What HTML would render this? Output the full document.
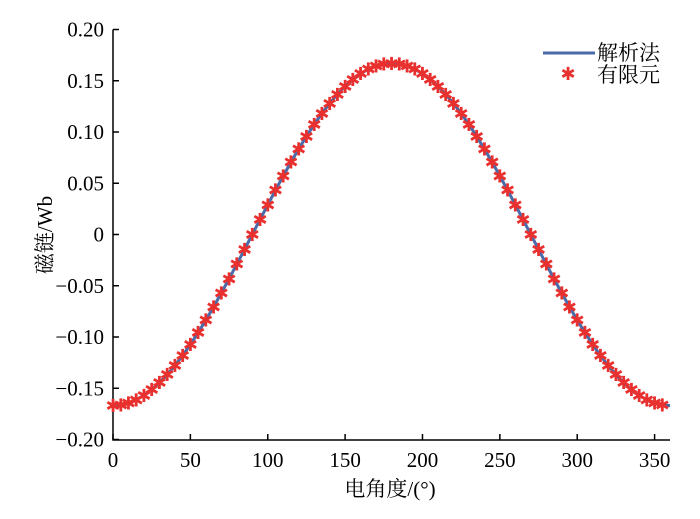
<!DOCTYPE html>
<html><head><meta charset="utf-8"><style>
body{margin:0;background:#fff}
svg text{font-family:"Liberation Serif","Noto Serif CJK SC",serif;font-size:21px;fill:#000}
</style></head><body>
<svg width="700" height="514">
<g id="axes"></g><g id="plot"></g>
<g>
<line x1="543" y1="53" x2="595" y2="53" stroke="#4a6aa8" stroke-width="3"/>
<text x="597" y="60">解析法</text>
<text x="568" y="80" text-anchor="middle" style="fill:#e8312f;font-size:18px;font-family:'DejaVu Sans',sans-serif">✱</text>
<text x="597" y="82">有限元</text>
</g>
<text x="390" y="496" text-anchor="middle">电角度/(°)</text>
<text transform="translate(52,235) rotate(-90)" text-anchor="middle">磁链/Wb</text>
</svg>
<script>
const angles=[0,5,10,15,20,25,30,35,40,45,50,55,60,65,70,75,80,85,90,95,100,105,110,115,120,125,130,135,140,145,150,155,160,165,170,175,180,185,190,195,200,205,210,215,220,225,230,235,240,245,250,255,260,265,270,275,280,285,290,295,300,305,310,315,320,325,330,335,340,345,350,355,360];
const half=[-0.167,-0.1664,-0.1645,-0.1613,-0.1569,-0.1514,-0.1446,-0.1368,-0.1279,-0.1181,-0.1073,-0.0958,-0.0835,-0.0706,-0.0571,-0.0432,-0.029,-0.0146,0,0.0146,0.029,0.0432,0.0571,0.0706,0.0835,0.0958,0.1073,0.1181,0.1279,0.1368,0.1446,0.1514,0.1569,0.1613,0.1645,0.1664,0.167];
const analytic=half.concat(half.slice(0,36).reverse());
const femAngles=angles.slice(0,72);
const fem=analytic.slice(0,72);
const xTicks=[0,50,100,150,200,250,300,350];
const yTicks=[0.2,0.15,0.1,0.05,0,-0.05,-0.1,-0.15,-0.2];
const yLabels=["0.20","0.15","0.10","0.05","0","\u22120.05","\u22120.10","\u22120.15","\u22120.20"];
const X=a=>113+a*1.5474, Y=v=>234.5-1025*v;
const NS="http://www.w3.org/2000/svg";
function mk(t,at,p){const e=document.createElementNS(NS,t);for(const k in at)e.setAttribute(k,at[k]);p.appendChild(e);return e;}
const ax=document.getElementById('axes'),pl=document.getElementById('plot');
let e=mk('path',{d:`M113,29.5V440H670`,fill:'none',stroke:'#000','stroke-width':1.5},ax);


xTicks.forEach(t=>{const x=X(t);
 let l=mk('line',{x1:x,y1:440,x2:x,y2:434,stroke:'#000','stroke-width':1.5},ax);
 
 
 let tx=mk('text',{x:x,y:467,'text-anchor':'middle'},ax);tx.textContent=t;
 
 });
yTicks.forEach((t,i)=>{const y=Y(t);
 let l=mk('line',{x1:113,y1:y,x2:119,y2:y,stroke:'#000','stroke-width':1.5},ax);
 
 
 let tx=mk('text',{x:104,y:y+7,'text-anchor':'end'},ax);tx.textContent=yLabels[i];
 
 });
let ln=mk('polyline',{points:angles.map((a,i)=>X(a)+','+Y(analytic[i])).join(' '),fill:'none',stroke:'#4a6aa8','stroke-width':3},pl);


femAngles.forEach((a,i)=>{const t=mk('text',{x:X(a),y:Y(fem[i])+6.5,'text-anchor':'middle',style:"fill:#e8312f;font-size:18px;font-family:'DejaVu Sans',sans-serif"},pl);t.textContent='✱';
 
 });
</script>
</body></html>
